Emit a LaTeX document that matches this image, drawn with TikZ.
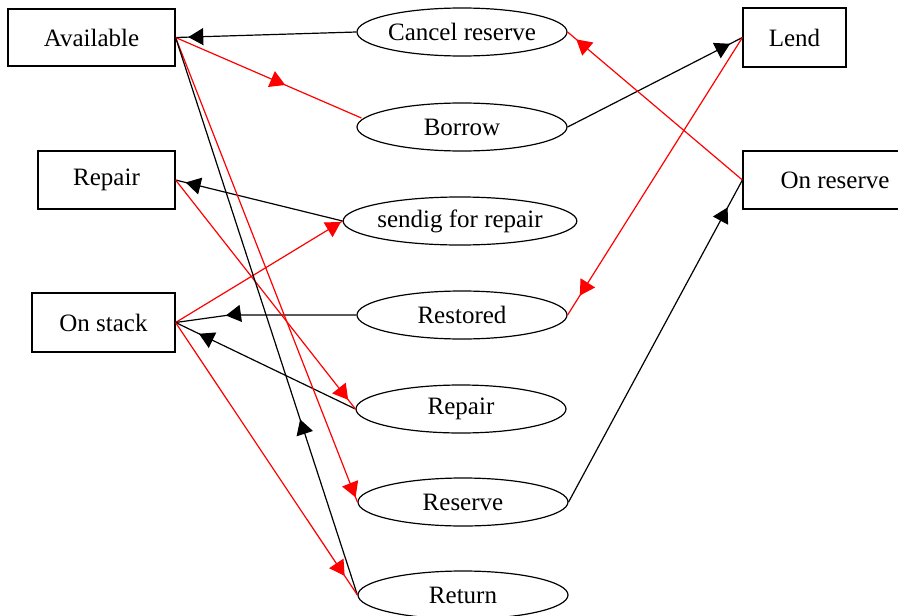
\documentclass[tikz,border=0pt]{standalone}
\usepackage{fontspec}
\setmainfont{Liberation Serif}
\usetikzlibrary{arrows.meta,decorations.markings,shapes.geometric,calc}

\tikzset{
  lbl/.style={font=\fontsize{25}{30}\selectfont},
  box/.style={lbl, draw, rectangle, line width=1.2pt, inner sep=0pt},
  oval/.style={lbl, draw, ellipse, line width=1.2pt, inner sep=0pt,
               minimum width=210pt, minimum height=48pt},
  link/.style={line width=1.2pt},
  tipat/.style={postaction=decorate,
    decoration={markings,
      mark=at position #1 with {\arrow{Triangle[length=15pt,width=17pt]}}}},
}

\begin{document}
\begin{tikzpicture}[x=1pt,y=-1pt]
  \useasboundingbox (0,0) rectangle (898,616);
  \fill[white] (0,0) rectangle (898,616);
  \clip (0,0) rectangle (898,616);

  % states
  \node[box, minimum width=167pt, minimum height=57pt] (avail)  at (91.5,37.5)  {Available};
  \node[box, minimum width=137pt, minimum height=58pt] (repbox) at (106.5,180)  {Repair};
  \node[box, minimum width=143pt, minimum height=59pt] (stack)  at (103.5,322.5) {On stack};
  \node[box, minimum width=103pt, minimum height=59pt] (lend)   at (794.5,37.5) {Lend};
  \node[box, minimum width=184pt, minimum height=58pt] (onres)  at (835,180)    {On reserve};

  % actions
  \node[oval] (cancel)   at (462,32)  {Cancel reserve};
  \node[oval] (borrow)   at (462,127) {Borrow};
  \node[oval] (sendig)   at (460,221) {sendig for repair};
  \node[oval] (restored) at (462,315) {Restored};
  \node[oval] (repell)   at (461,409) {Repair};
  \node[oval] (reserve)  at (463,502) {Reserve};
  \node[oval] (return)   at (463,595) {Return};

  % transitions
  \draw[link, tipat=0.93] (cancel.west) -- (avail.east);
  \draw[link, red, tipat=0.59] (avail.east) -- ($(borrow.west)+(5,-9)$);
  \draw[link, tipat=0.93] (borrow.east) -- (lend.west);
  \draw[link, red, tipat=0.93] (lend.west) -- (restored.east);
  \draw[link, red, tipat=0.95] (onres.west) -- (cancel.east);
  \draw[link, tipat=0.915] (reserve.east) -- (onres.west);
  \draw[link, tipat=0.94] (sendig.west) -- (repbox.east);
  \draw[link, red, tipat=0.99] (stack.east) -- (sendig.west);
  \draw[link, tipat=0.72] (restored.west) -- ++(-127,0) -- (stack.east);
  \draw[link, tipat=0.87] (repell.west) -- (stack.east);
  \draw[link, red, tipat=0.96] (repbox.east) -- (repell.west);
  \draw[link, red, tipat=0.99] (avail.east) -- (reserve.west);
  \draw[link, tipat=0.315] (return.west) -- (avail.east);
  \draw[link, red, tipat=0.93] (stack.east) -- (return.west);
\end{tikzpicture}
\end{document}
